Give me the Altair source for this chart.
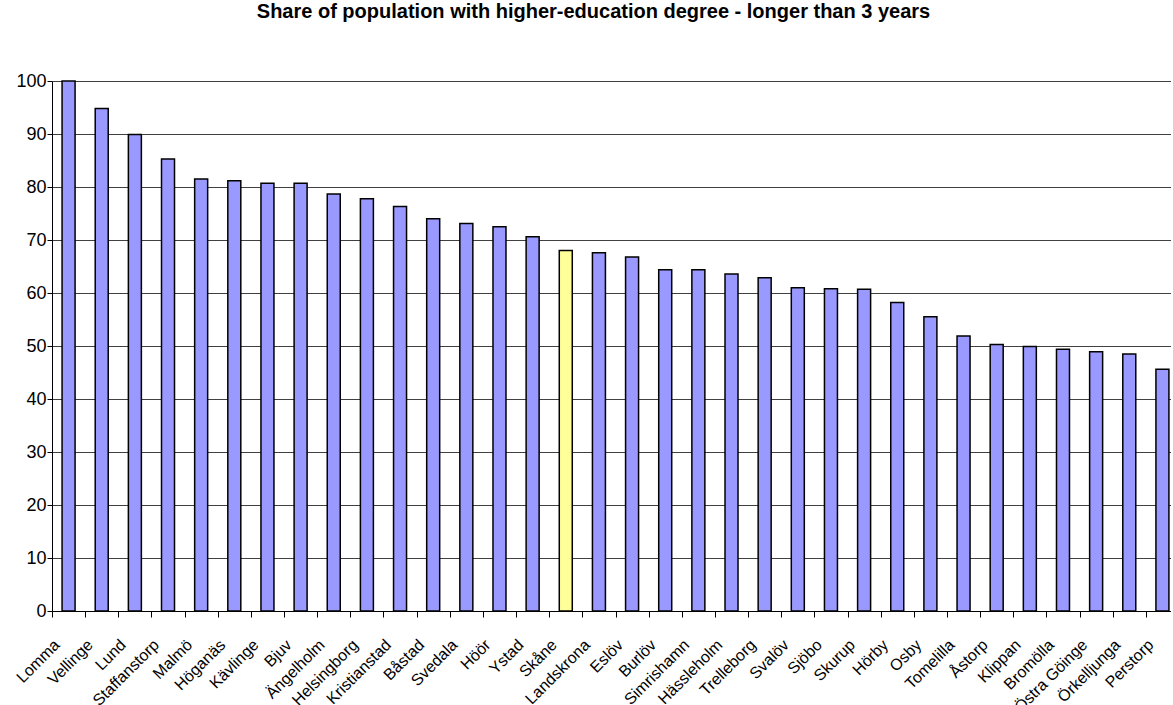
import altair as alt
import pandas as pd

names = ["Lomma", "Vellinge", "Lund", "Staffanstorp", "Malmö", "Höganäs", "Kävlinge",
         "Bjuv", "Ängelholm", "Helsingborg", "Kristianstad", "Båstad", "Svedala", "Höör",
         "Ystad", "Skåne", "Landskrona", "Eslöv", "Burlöv", "Simrishamn", "Hässleholm",
         "Trelleborg", "Svalöv", "Sjöbo", "Skurup", "Hörby", "Osby", "Tomelilla", "Åstorp",
         "Klippan", "Bromölla", "Östra Göinge", "Örkelljunga", "Perstorp"]
values = [100, 94.8, 89.9, 85.3, 81.5, 81.2, 80.7, 80.7, 78.7, 77.8, 76.3, 74.0, 73.1, 72.5,
          70.6, 68.0, 67.6, 66.8, 64.4, 64.4, 63.6, 62.9, 61.0, 60.8, 60.7, 58.2, 55.5, 51.9,
          50.3, 49.9, 49.4, 48.9, 48.5, 45.6]
y_ticks = [0, 10, 20, 30, 40, 50, 60, 70, 80, 90, 100]
highlight = "Skåne"
title_text = "Share of population with higher-education degree - longer than 3 years"

df = pd.DataFrame({"kommun": names, "share": values})

FONT = "Liberation Sans"

chart = alt.Chart(df).mark_bar(size=13, stroke="black", strokeWidth=1.5).encode(
    x=alt.X("kommun:N", sort=None,
            scale=alt.Scale(range=[0, 1127], paddingInner=0, paddingOuter=0),
            axis=alt.Axis(title=None, labelAngle=-45, labelAlign="right",
                          labelBaseline="middle", labelFontSize=16, labelFont=FONT,
                          labelColor="black", tickBand="extent", tickSize=6,
                          tickColor="black", domainColor="black", labelPadding=25,
                          labelOffset=-12, labelOverlap=False, grid=False)),
    y=alt.Y("share:Q", scale=alt.Scale(domain=[0, 100], nice=False),
            axis=alt.Axis(title=None, values=y_ticks, labelFontSize=18, labelFont=FONT,
                          labelColor="black", tickSize=5, tickColor="black",
                          domainColor="black", labelPadding=1, grid=True,
                          gridColor="#404040", gridWidth=1)),
    fill=alt.condition(alt.datum.kommun == highlight, alt.value("#FFFF99"),
                       alt.value("#9999FF")),
).properties(
    width=1119, height=530,
    autosize="none",
    padding={"left": 52, "top": 81, "right": 0, "bottom": 94},
    title=alt.TitleParams(title_text, font=FONT, fontSize=20, fontWeight="bold",
                          color="black", anchor="middle", frame="group", dx=-18,
                          offset=50),
).configure_view(stroke=None)

chart.save("out.html", embed_options={"renderer": "svg", "actions": False})
